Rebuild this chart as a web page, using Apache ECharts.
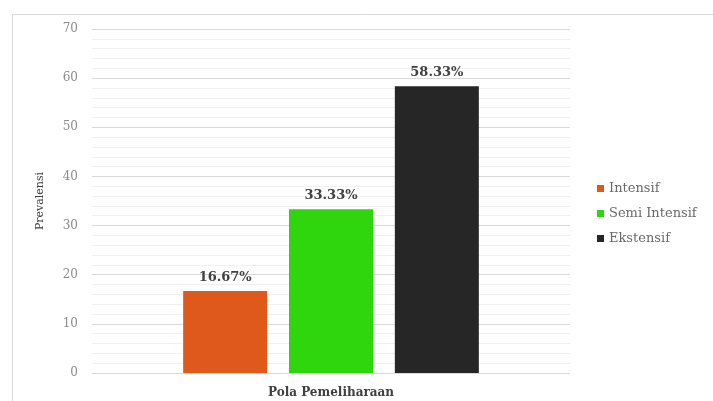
<!DOCTYPE html>
<html><head><meta charset="utf-8">
<script src="https://cdn.jsdelivr.net/npm/echarts@6/dist/echarts.min.js"></script>
<style>html,body{margin:0;padding:0;background:#fff}#c{width:713px;height:401px}</style>
</head><body><div id="c"></div>
<script>
const categories = ['Pola Pemeliharaan'];
const seriesNames = ['Intensif', 'Semi Intensif', 'Ekstensif'];
const intensif = [16.67];
const semiIntensif = [33.33];
const ekstensif = [58.33];
const colors = ['#e0591c', '#2fd60d', '#262626'];
const serif = '"DejaVu Serif", "Liberation Serif", serif';
const vals = [intensif, semiIntensif, ekstensif];
const chart = echarts.init(document.getElementById('c'));
chart.setOption({
  animation: false,
  textStyle: { fontFamily: serif },
  graphic: [{ type: 'rect', shape: { x: 12.5, y: 14.5, width: 720, height: 400 }, style: { fill: 'none', stroke: '#d9d9d9', lineWidth: 1 } }],
  grid: { left: 92, right: 143, top: 29, bottom: 28 },
  legend: {
    orient: 'vertical', left: 592, top: 177, itemWidth: 7, itemHeight: 7, itemGap: 12,
    icon: 'rect',
    textStyle: { fontFamily: serif, fontSize: 13, color: '#6a6a6a' },
    data: seriesNames
  },
  xAxis: {
    type: 'category', data: categories,
    axisLine: { show: false }, axisTick: { show: false },
    axisLabel: { margin: 14, fontFamily: serif, fontWeight: 'bold', fontSize: 12, color: '#404040' }
  },
  yAxis: {
    type: 'value', min: 0, max: 70, interval: 10,
    name: 'Prevalensi', nameLocation: 'middle', nameGap: 46, nameRotate: 90,
    nameTextStyle: { fontFamily: serif, fontSize: 11, color: '#404040' },
    axisLabel: { margin: 14, fontFamily: serif, fontSize: 12, color: '#8c8c8c' },
    axisLine: { show: false }, axisTick: { show: false },
    splitLine: { lineStyle: { color: '#d9d9d9' } },
    minorTick: { show: false, splitNumber: 5 },
    minorSplitLine: { show: true, lineStyle: { color: '#f0f0f0' } }
  },
  series: seriesNames.map((n, i) => ({
    name: n, type: 'bar', data: vals[i], barWidth: 84, barGap: '26%',
    itemStyle: { color: colors[i] },
    label: { show: true, position: 'top', distance: 7, formatter: p => p.value.toFixed(2) + '%',
      fontFamily: serif, fontWeight: 'bold', fontSize: 13, color: '#404040' }
  }))
});
</script></body></html>
